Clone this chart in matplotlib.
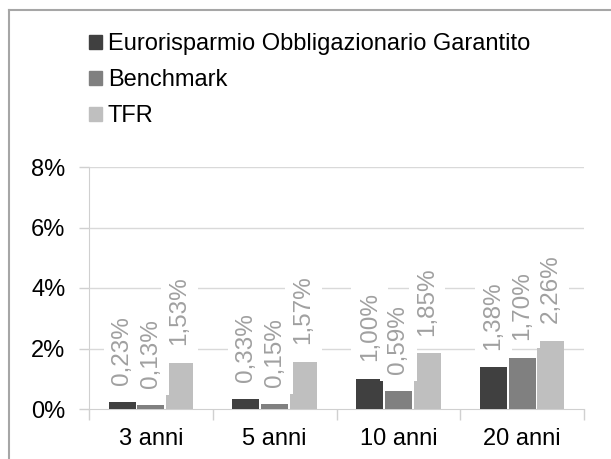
import matplotlib
matplotlib.use("Agg")
import matplotlib.pyplot as plt
import numpy as np
from matplotlib.patches import Patch
from matplotlib.lines import Line2D

plt.rcParams['font.family'] = ['Liberation Sans', 'DejaVu Sans']

categories = ["3 anni", "5 anni", "10 anni", "20 anni"]
series_names = ["Eurorisparmio Obbligazionario Garantito", "Benchmark", "TFR"]
euro = [0.23, 0.33, 1.00, 1.38]
bench = [0.13, 0.15, 0.59, 1.70]
tfr = [1.53, 1.57, 1.85, 2.26]
yticks = [0, 2, 4, 6, 8]
colors = ["#404040", "#808080", "#bfbfbf"]

W, H = 611, 459
fig = plt.figure(figsize=(W / 100, H / 100), dpi=100)
ax = fig.add_axes([89 / W, (H - 409) / H, (584 - 89) / W, (409 - 167) / H])

x = np.arange(len(categories))
w = 0.218
step = 0.232
for i, (vals, c) in enumerate(zip([euro, bench, tfr], colors)):
    pos = x + (i - 1) * step
    ax.bar(pos, vals, width=w, color=c, linewidth=0, zorder=3)
    for p, v in zip(pos, vals):
        ax.annotate(f"{v:.2f}%".replace('.', ','), (p, v), xytext=(0, 12.5),
                    textcoords='offset points', rotation=90, ha='center', va='bottom',
                    fontsize=17.5, color='#a0a0a0', zorder=4,
                    bbox=dict(boxstyle='square,pad=0.3', fc='white', ec='none'))

ax.set_ylim(0, 8)
ax.set_xlim(-0.5, len(categories) - 0.5)
ax.set_yticks(yticks)
ax.set_yticklabels([f"{t}%" for t in yticks], fontsize=17)
ax.set_xticks(x)
ax.set_xticklabels(categories, fontsize=17)
ax.tick_params(axis='y', length=7, width=1, color='#d0d0d0', pad=10)
ax.tick_params(axis='x', length=0, pad=14)
ax.set_xticks(np.arange(-0.5, len(categories), 1), minor=True)
ax.tick_params(axis='x', which='minor', length=8, width=1, color='#d0d0d0')
for t in yticks[1:]:
    ax.axhline(t, color='#d9d9d9', linewidth=1, zorder=1)
for s in ['top', 'right']:
    ax.spines[s].set_visible(False)
ax.spines['left'].set_color('#d0d0d0')
ax.spines['bottom'].set_color('#d0d0d0')
ax.spines['left'].set_zorder(0.5)

handles = [Patch(color=c) for c in colors]
fig.legend(handles, series_names, loc='upper left', bbox_to_anchor=(89 / W, 1 - 33 / H),
           frameon=False, fontsize=17, handlelength=0.55, handleheight=0.55,
           handletextpad=0.25, labelspacing=0.6, borderaxespad=0, borderpad=0)

fig.add_artist(Line2D([9 / W, 1], [1 - 9.5 / H, 1 - 9.5 / H], transform=fig.transFigure,
                      color='#a6a6a6', linewidth=1.5))
fig.add_artist(Line2D([9 / W, 9 / W], [0, 1 - 9.5 / H], transform=fig.transFigure,
                      color='#a6a6a6', linewidth=1.5))

fig.savefig("out.png", dpi=100)
